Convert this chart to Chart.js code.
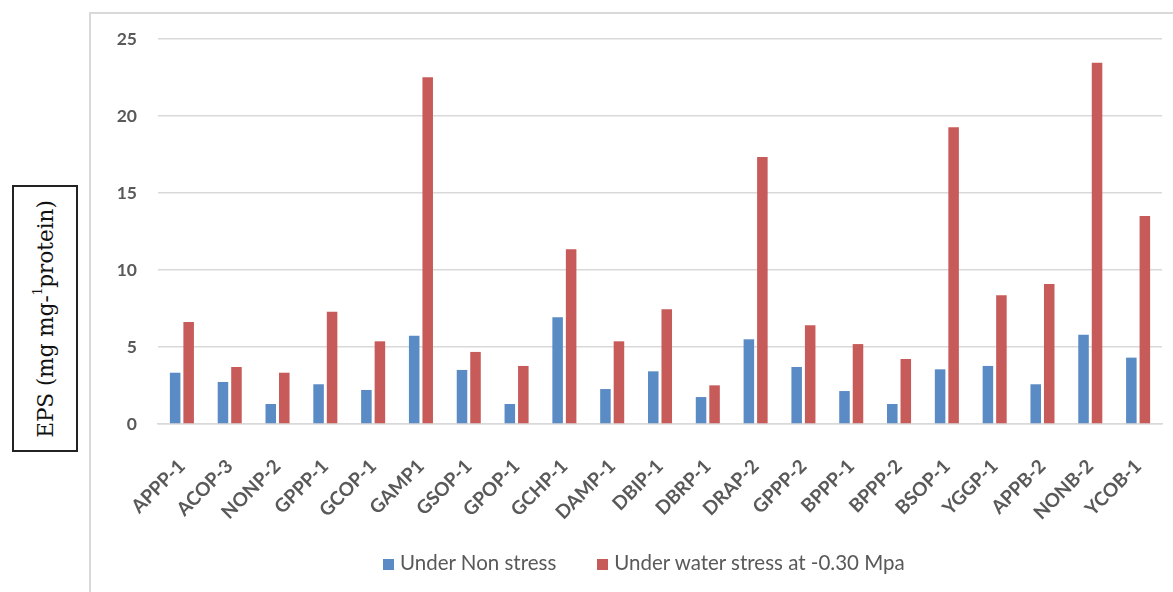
<!DOCTYPE html>
<html>
<head>
<meta charset="utf-8">
<script src="https://cdn.jsdelivr.net/npm/chart.js@4.4.1/dist/chart.umd.min.js"></script>
<style>
  html, body { margin: 0; padding: 0; background: #ffffff; }
  #wrap { position: relative; width: 1173px; height: 592px; overflow: hidden; }
  #frame { position: absolute; left: 89px; top: 12px; width: 1200px; height: 700px;
           border-left: 2px solid #d9d9d9; border-top: 2px solid #d9d9d9; box-sizing: border-box; }
  #chart { position: absolute; left: 0; top: 0; }
  #ytitle { position: absolute; left: 12px; top: 185px; width: 66px; height: 267px;
            border: 2px solid #222; box-sizing: border-box; background: #fff; }
  #ytitle span { position: absolute; left: 50%; top: 50%; white-space: nowrap;
                 transform: translate(-50%, -50%) rotate(-90deg);
                 font-family: "DejaVu Serif", serif; font-size: 21.5px; color: #111; }
  #ytitle sup { font-size: 12px; position: relative; top: -3px; }
  #legend { position: absolute; top: 550px; left: 383px; white-space: nowrap;
            font-family: Lato, sans-serif; font-size: 20.5px; color: #595959; }
  #legend .item { display: inline-block; }
  #legend .item + .item { margin-left: 41px; }
  #legend .box { display: inline-block; width: 11px; height: 11px; margin-right: 6px; }
</style>
</head>
<body>
<div id="wrap">
  <div id="frame"></div>
  <canvas id="chart" width="1173" height="592"></canvas>
  <div id="ytitle"><span>EPS (mg mg-<sup>1</sup>protein)</span></div>
  <div id="legend"></div>
</div>
<script>
// Bacterial isolates on the category axis
const isolates = ["APPP-1", "ACOP-3", "NONP-2", "GPPP-1", "GCOP-1", "GAMP1", "GSOP-1",
                  "GPOP-1", "GCHP-1", "DAMP-1", "DBIP-1", "DBRP-1", "DRAP-2", "GPPP-2",
                  "BPPP-1", "BPPP-2", "BSOP-1", "YGGP-1", "APPB-2", "NONB-2", "YCOB-1"];

// EPS production, mg per mg protein
const nonStress = [3.33, 2.73, 1.30, 2.58, 2.21, 5.73, 3.51,
                   1.30, 6.93, 2.27, 3.42, 1.75, 5.50, 3.70,
                   2.14, 1.30, 3.55, 3.77, 2.58, 5.80, 4.31];
const waterStress = [6.62, 3.70, 3.33, 7.29, 5.37, 22.51, 4.68,
                     3.77, 11.34, 5.37, 7.45, 2.51, 17.34, 6.41,
                     5.19, 4.22, 19.27, 8.36, 9.09, 23.46, 13.51];

const seriesNames = ["Under Non stress", "Under water stress at -0.30 Mpa"];
const seriesColors = ["#5b8bc5", "#c75b59"];
const yTicks = [0, 5, 10, 15, 20, 25];

new Chart(document.getElementById("chart"), {
  type: "bar",
  data: {
    labels: isolates,
    datasets: [
      { label: seriesNames[0], data: nonStress, backgroundColor: seriesColors[0] },
      { label: seriesNames[1], data: waterStress, backgroundColor: seriesColors[1] }
    ]
  },
  options: {
    responsive: false,
    animation: false,
    datasets: { bar: { categoryPercentage: 0.565, barPercentage: 0.78 } },
    layout: { padding: { left: 90, right: 11, top: 39, bottom: 0 } },
    plugins: { legend: { display: false }, tooltip: { enabled: false } },
    scales: {
      x: {
        grid: { display: false, drawTicks: false },
        border: { display: true, color: "#d9d9d9", width: 1.5 },
        ticks: { color: "#595959", font: { family: "Lato", size: 19, weight: "bold" },
                 minRotation: 45, maxRotation: 45, autoSkip: false, padding: 31 },
        afterFit: s => { s.height = 168; s.paddingLeft = 0; s.paddingRight = 0; }
      },
      y: {
        min: 0, max: 25,
        afterBuildTicks: s => { s.ticks = yTicks.map(v => ({ value: v })); },
        grid: { color: "#d9d9d9", lineWidth: 1.5, drawTicks: false },
        border: { display: false },
        ticks: { color: "#595959", font: { family: "Lato", size: 17.5, weight: "bold" }, padding: 21 },
        afterFit: s => { s.width = 68; }
      }
    }
  }
});

// Legend entries
const legend = document.getElementById("legend");
seriesNames.forEach((name, i) => {
  const item = document.createElement("span");
  item.className = "item";
  const box = document.createElement("span");
  box.className = "box";
  box.style.background = seriesColors[i];
  item.appendChild(box);
  item.appendChild(document.createTextNode(name));
  legend.appendChild(item);
});
</script>
</body>
</html>
